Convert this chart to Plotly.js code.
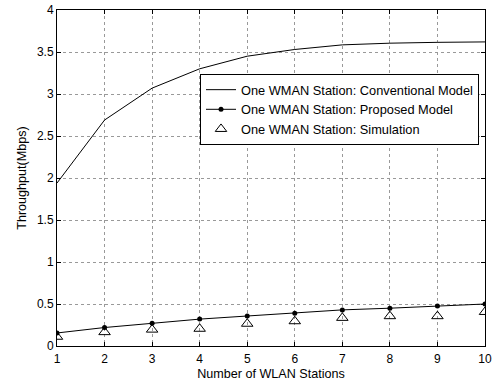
<!DOCTYPE html>
<html><head><meta charset="utf-8">
<script src="https://cdn.plot.ly/plotly-3.0.1.min.js"></script>
<style>html,body{margin:0;padding:0;background:#fff}</style>
</head><body><div id="chart" style="width:492px;height:382px"></div>
<script>
const stations = [1,2,3,4,5,6,7,8,9,10];
const conventional = [1.94,2.69,3.07,3.30,3.45,3.53,3.585,3.605,3.615,3.62];
const proposed = [0.155,0.22,0.27,0.32,0.357,0.39,0.43,0.45,0.476,0.50];
const simulation = [0.11,0.165,0.195,0.205,0.265,0.295,0.335,0.355,0.355,0.405];
const names = ['One WMAN Station: Conventional Model','One WMAN Station: Proposed Model','One WMAN Station: Simulation'];

const fam = 'Liberation Sans, Arial, sans-serif';
const tickFont = {family:fam, size:12, color:'#000'};
const titleFont = {family:fam, size:12.6, color:'#000'};
const traces = [
 {x:stations,y:conventional,name:names[0],mode:'lines',line:{color:'#000',width:1}},
 {x:stations,y:proposed,name:names[1],mode:'lines+markers',line:{color:'#000',width:1},marker:{symbol:'circle',size:5,color:'#000'}},
 {x:stations,y:simulation,name:names[2],mode:'markers',marker:{symbol:'triangle-up-open',size:10,color:'#000',line:{width:1}}}
];
const axisCommon = {showline:true,linecolor:'#000',linewidth:1,mirror:'ticks',ticks:'inside',ticklen:4,tickcolor:'#000',
  showgrid:true,gridcolor:'#999',griddash:'dot',gridwidth:1,zeroline:false,tickfont:tickFont};
const layout = {
  width:492,height:382,margin:{l:57,r:7,t:10,b:36},
  paper_bgcolor:'#fff',plot_bgcolor:'#fff',font:tickFont,
  xaxis:Object.assign({},axisCommon,{range:[1,10],tickvals:stations,ticklabelstandoff:2,title:{text:'Number of WLAN Stations',font:titleFont,standoff:3}}),
  yaxis:Object.assign({},axisCommon,{range:[0,4],dtick:0.5,title:{text:'Throughput(Mbps)',font:titleFont,standoff:7}}),
  legend:{x:0.986,y:0.81,xanchor:'right',yanchor:'top',bgcolor:'#fff',bordercolor:'#000',borderwidth:1,
    font:{family:fam,size:12.8,color:'#000'},tracegroupgap:0,itemwidth:30},
  showlegend:true
};
Plotly.newPlot('chart',traces,layout,{displayModeBar:false,staticPlot:true});
</script></body></html>
